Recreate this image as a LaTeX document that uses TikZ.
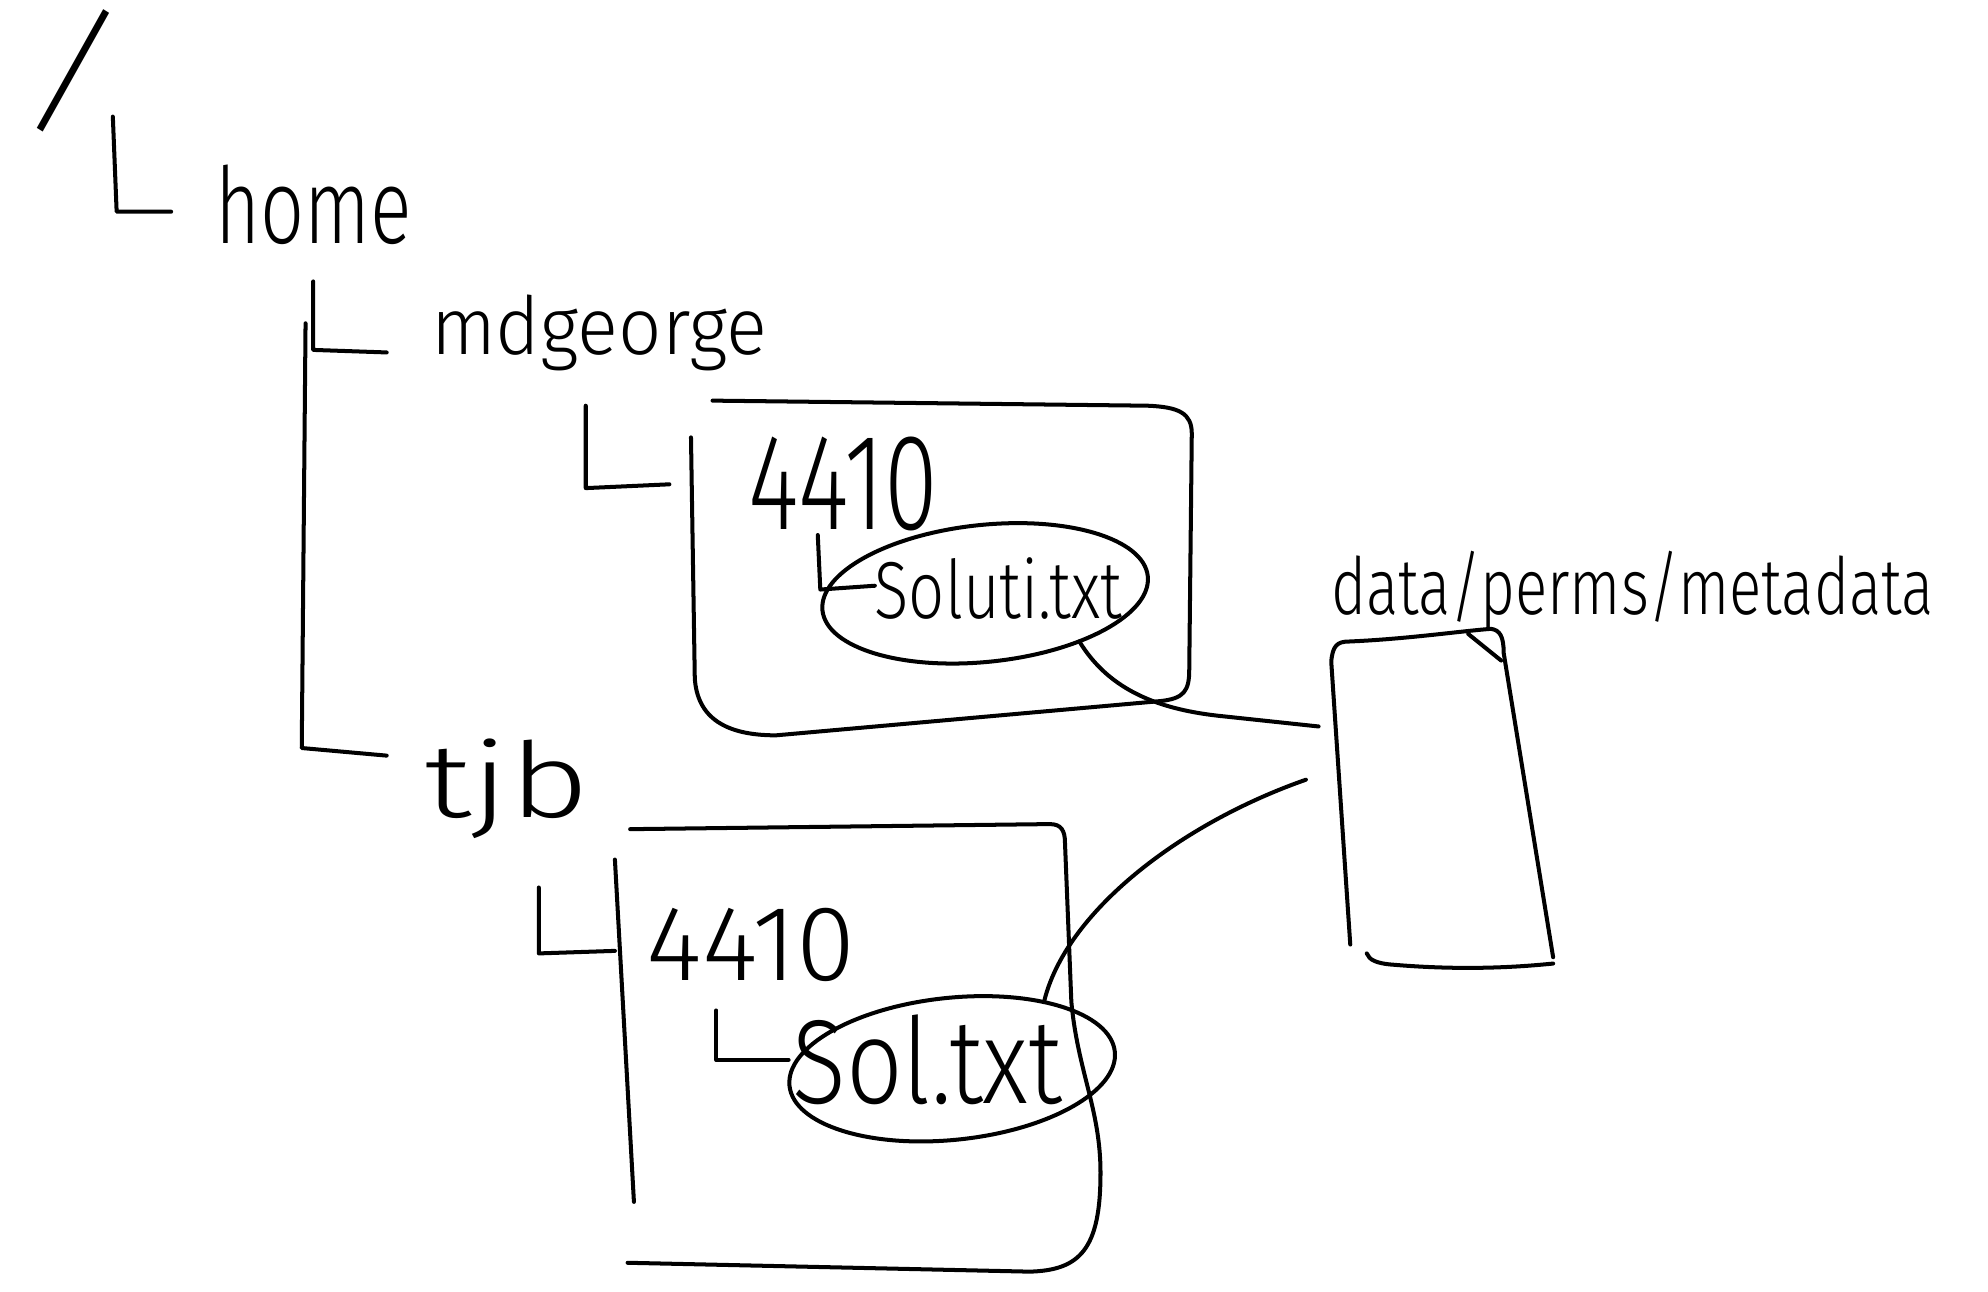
\documentclass[tikz,border=0pt]{standalone}
\usepackage{fontspec}
\usepackage{graphicx}
\IfFontExistsTF{Fira Sans Light}{\setmainfont{Fira Sans Light}}{\setmainfont{Fira Sans}}
\usetikzlibrary{shapes.geometric}

% one drawing unit
\newlength{\pxu}
\setlength{\pxu}{0.1mm}
% text squeezed into a given width and height (in drawing units)
\newcommand{\hw}[3]{\resizebox{#1\pxu}{#2\pxu}{#3}}

\begin{document}
\begin{tikzpicture}[x=0.1mm, y=-0.1mm, line width=0.9pt, line cap=round, line join=round,
  txt/.style={inner sep=0pt, outer sep=0pt, anchor=base west},
  fileoval/.style={draw, ellipse, inner sep=0pt, outer sep=0pt}]
\useasboundingbox (0,0) rectangle (1568,1019);

% root directory
\node[inner sep=0pt, rotate=-16] (root) at (58,56) {\resizebox*{55\pxu}{106\pxu}{/}};

% /home
\coordinate (homeA) at (89,92);
\coordinate (homeB) at (92,167);
\coordinate (homeC) at (135,167);
\draw (homeA) -- (homeB) -- (homeC);
\node[txt] (home) at (170,192) {\hw{155}{62}{home}};

% /home/mdgeorge and /home/tjb
\draw (247,222) -- (247,276) -- (305,278);
\node[txt] (mdg) at (340,280) {\hw{265}{47}{mdgeorge}};
\draw (241,255) -- (238,590) -- (305,596);
\node[txt] (tjb) at (335,645) {\hw{130}{62}{tjb}};

% mdgeorge/4410
\draw (462,320) -- (462,385) -- (528,382);
\draw (545,345) -- (548,535) .. controls (550,566) and (572,580) .. (612,580)
  -- (915,553) .. controls (934,551) and (938,545) .. (938,528)
  -- (940,342) .. controls (940,326) and (930,321) .. (905,320) -- (562,316);
\node[txt] (dirA) at (590,418) {\hw{150}{73}{4410}};

% mdgeorge/4410/solution file
\draw (645,422) -- (647,465) -- (690,462);
\node[fileoval, minimum width=25.8mm, minimum height=10.8mm, rotate=6] (fileA) at (777,468) {};
\node[txt] (fileAtxt) at (690,488) {\hw{195}{48}{Soluti.txt}};

% tjb/4410
\draw (425,700) -- (425,752) -- (485,750);
\draw (485,678) -- (500,948);
\draw (497,654) -- (828,650) .. controls (837,650) and (840,655) .. (840,665)
  -- (845,790) .. controls (850,845) and (868,875) .. (868,925)
  .. controls (868,985) and (852,1002) .. (812,1003) -- (495,996);
\node[txt] (dirB) at (510,773) {\hw{165}{57}{4410}};

% tjb/4410/solution file
\draw (565,797) -- (565,836) -- (622,836);
\node[fileoval, minimum width=25.8mm, minimum height=11.2mm, rotate=6] (fileB) at (751,843) {};
\node[txt] (fileBtxt) at (625,870) {\hw{213}{70}{Sol.txt}};

% shared metadata block
\node[txt] (mdlabel) at (1050,485) {\hw{475}{50}{data/perms/metadata}};
\draw (1065,745) -- (1050,522) .. controls (1051,509) and (1055,506) .. (1064,506)
  .. controls (1110,504) and (1150,498) .. (1176,496)
  .. controls (1183,497) and (1186,502) .. (1186,515) -- (1225,755);
\draw (1078,752) .. controls (1080,757) and (1085,760) .. (1100,761)
  .. controls (1160,766) and (1205,762) .. (1225,760);
\draw (1158,500) -- (1184,521);
\coordinate (metaA) at (1040,573);
\coordinate (metaB) at (1030,615);

% links from the files to the metadata
\draw (fileA.-33) .. controls (875,545) and (915,560) .. (965,565) -- (metaA);
\draw (fileB.30) .. controls (840,720) and (930,650) .. (metaB);
\end{tikzpicture}
\end{document}
